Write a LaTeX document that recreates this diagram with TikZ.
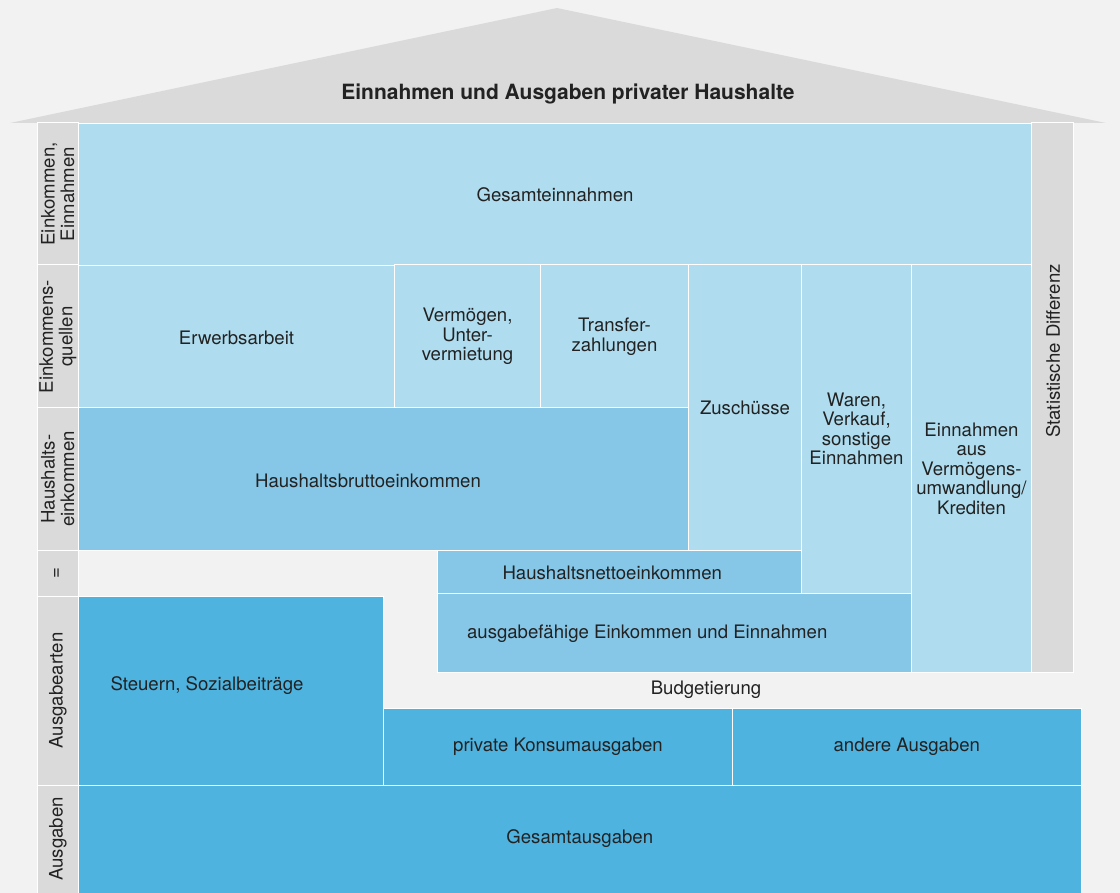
\documentclass[tikz,border=0pt]{standalone}
\usepackage{fontspec}
\setmainfont{TeX Gyre Heros}
\definecolor{hgrund}{HTML}{F2F2F2}
\definecolor{hgrau}{HTML}{DADADA}
\definecolor{hblau}{HTML}{AFDDEF}
\definecolor{mblau}{HTML}{86C7E8}
\definecolor{dblau}{HTML}{4FB3E0}
\definecolor{schrift}{HTML}{222222}
\begin{document}
\begin{tikzpicture}[x=1pt, y=-1pt, text=schrift,
      font=\fontsize{18.6}{19.5}\selectfont,
      feld/.style={draw=white, line width=1pt, inner sep=0pt, outer sep=0pt, align=center},
      kopf/.style={feld, fill=hgrau, minimum height=41.5pt, rotate=90},
      ein/.style={feld, fill=hblau},
      mit/.style={feld, fill=mblau},
      aus/.style={feld, fill=dblau}]
    \useasboundingbox (0,0) rectangle (1120,893);
    \fill[hgrund] (0,0) rectangle (1120,893);
    % Dach
    \fill[hgrau] (10,123) -- (557,8) -- (1106,123) -- cycle;
    \node[font=\fontsize{21}{24}\selectfont\bfseries] (titel) at (568,94) {Einnahmen und Ausgaben privater Haushalte};
    % linke Spalte
    \node[kopf, minimum width=142pt] (lein)  at (57.75,194)   {Einkommen,\\Einnahmen};
    \node[kopf, minimum width=143pt] (lquel) at (57.75,336.5) {Einkommens-\\quellen};
    \node[kopf, minimum width=142pt] (lhh)   at (57.75,479)   {Haushalts-\\einkommen};
    \node[kopf, minimum width=46pt]  (lgl)   at (57.75,573)   {=};
    \node[kopf, minimum width=189pt] (lart)  at (57.75,690.5) {Ausgabearten};
    \node[kopf, minimum width=108pt] (laus)  at (57.75,839)   {Ausgaben};
    % Einnahmen
    \node[ein, minimum width=953pt, minimum height=142pt] (gesein) at (555,195) {Gesamteinnahmen};
    \node[feld, fill=hgrau, minimum width=41.5pt, minimum height=549pt] (stat) at (1052.25,397.5) {};
    \node[rotate=90] (statlab) at (1053,351) {Statistische Differenz};
    \node[ein, minimum width=316pt, minimum height=143pt] (erwerb)   at (236.5,337.5) {Erwerbsarbeit};
    \node[ein, minimum width=146pt, minimum height=143pt] (verm)     at (467.5,336.5) {Vermögen,\\Unter-\\vermietung};
    \node[ein, minimum width=148pt, minimum height=143pt] (transfer) at (614.5,336.5) {Transfer-\\zahlungen};
    \node[ein, minimum width=113pt, minimum height=285pt] (zusch)    at (745,407.5)   {Zuschüsse};
    \node[ein, minimum width=110pt, minimum height=328pt] (waren)    at (856.5,429)   {Waren,\\Verkauf,\\sonstige\\Einnahmen};
    \node[ein, minimum width=120pt, minimum height=407pt] (umwand)   at (971.5,468.5) {Einnahmen\\aus\\Vermögens-\\umwandlung/\\Krediten};
    \node[mit, minimum width=610pt, minimum height=142pt,
      label={[xshift=-15.5pt, yshift=-1.5pt]center:Haushaltsbruttoeinkommen}] (brutto) at (383.5,479) {};
    \node[mit, minimum width=364.5pt, minimum height=43pt,
      label={[xshift=-7pt, yshift=-1.5pt]center:Haushaltsnettoeinkommen}] (netto) at (619.25,571.5) {};
    \node[mit, minimum width=474.5pt, minimum height=79pt,
      label={[xshift=-27pt, yshift=-1pt]center:ausgabefähige Einkommen und Einnahmen}] (ausgf) at (674.25,632.5) {};
    \node (budget) at (706,690) {Budgetierung};
    % Ausgaben
    \node[aus, minimum width=305pt, minimum height=189pt,
      label={[xshift=-24pt, yshift=5pt]center:Steuern, Sozialbeiträge}] (steuern) at (231,690.5) {};
    \node[aus, minimum width=349pt, minimum height=77pt]   (konsum) at (558,746.5)    {private Konsumausgaben};
    \node[aus, minimum width=348.5pt, minimum height=77pt] (andere) at (906.75,746.5) {andere Ausgaben};
    \node[aus, minimum width=1002.5pt, minimum height=108pt] (gesaus) at (579.75,839) {Gesamtausgaben};
  \end{tikzpicture}
\end{document}
